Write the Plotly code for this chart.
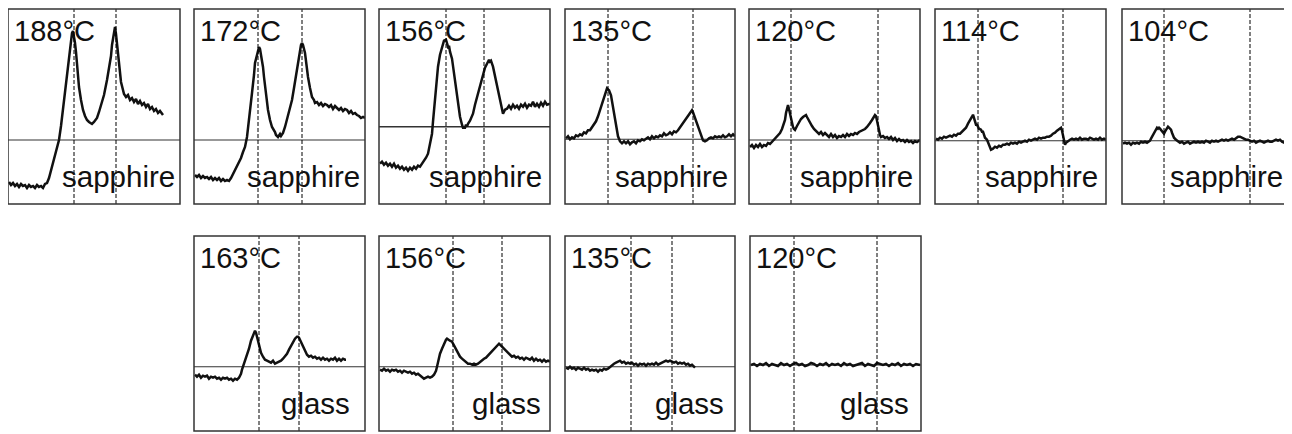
import plotly.graph_objects as go

# ---------------- data (x: channel / a.u., y: signal relative to baseline) ----------------
temps_sapphire = ["188°C", "172°C", "156°C", "135°C", "120°C", "114°C", "104°C"]
temps_glass = ["163°C", "156°C", "135°C", "120°C"]

s188_x = [1,3,5,7,9,11,13,15,17,19,21,23,25,27,29,31,33,35,37,39,41,43,45,47,49,51,53,55,57,59,61,62,63,64,65,66,67,68,69,70,71,73,75,77,79,81,84,86,89,91,94,96,99,101,103,104,105,106,107,108,109,110,111,112,113,115,116,118,120,122,124,126,128,130,132,134,136,138,140,142,144,146,148,150,152,155]
s188_y = [-42,-45,-43,-46,-44,-47,-44,-46,-45,-48,-45,-47,-46,-48,-45,-47,-46,-48,-44,-43,-38,-30,-22,-15,-8,0,14,30,47,63,80,90,100,107,109,104,97,88,75,62,53,40,30,24,20,18,16,18,22,28,37,45,60,72,84,95,103,110,113,106,97,85,75,67,58,50,46,43,45,40,42,38,41,36,39,35,37,33,36,31,33,29,31,27,29,25]

s172_x = [1,3,5,7,9,11,13,15,17,19,21,23,25,27,29,31,33,35,37,39,41,43,45,47,49,51,53,54,56,58,60,61,63,64,65,66,67,69,70,72,74,76,78,81,82,84,86,87,89,91,93,95,98,100,103,104,106,107,108,109,111,112,114,116,118,120,121,123,125,127,129,131,133,135,137,139,141,143,145,147,149,151,153,155,157,159,161,163,165,167,169,171]
s172_y = [-35,-37,-35,-38,-36,-38,-37,-39,-37,-40,-38,-40,-38,-41,-39,-41,-40,-41,-38,-34,-30,-26,-23,-18,-12,-7,3,13,30,47,65,77,85,90,93,91,86,73,63,43,30,20,13,8,5,3,6,4,7,13,20,28,40,52,70,80,90,95,97,95,87,78,63,52,43,40,37,38,35,37,34,36,35,33,35,31,34,32,30,32,29,31,30,27,29,26,27,25,24,22,23,22]

s156_x = [1,3,5,7,9,11,13,15,17,19,21,23,25,27,29,31,33,35,37,39,41,43,45,47,49,51,53,54,56,58,59,61,63,64,65,67,68,69,70,71,73,74,76,77,79,81,83,84,86,87,88,89,91,92,94,96,99,101,104,106,108,109,110,111,112,114,116,118,120,122,123,124,126,128,130,132,134,136,138,140,142,144,146,148,150,152,154,156,158,160,162,164,166,168,171]
s156_y = [-37,-35,-38,-36,-39,-37,-40,-37,-41,-39,-42,-40,-43,-41,-44,-41,-43,-40,-42,-39,-40,-37,-35,-31,-27,-18,-7,5,27,45,60,72,80,84,86,87,84,80,81,75,68,60,47,36,20,10,2,-1,-1,2,0,3,6,9,13,22,33,42,53,59,63,66,67,65,66,60,50,40,30,20,15,13,17,18,21,18,22,19,21,18,22,20,23,19,22,21,25,20,23,20,24,21,25,22,23]

s135_x = [1,3,5,7,9,11,13,15,17,19,21,23,25,27,29,31,33,35,37,38,40,41,42,43,44,46,47,48,49,50,51,52,53,55,57,59,61,63,65,67,69,71,73,75,77,79,81,83,85,87,89,91,93,95,97,99,101,103,105,107,109,111,113,115,117,119,121,123,125,127,128,130,132,134,136,138,140,142,144,146,148,150,152,154,156,158,160,162,164,166,168,170]
s135_y = [1,3,0,2,1,4,3,5,4,7,6,9,9,12,14,18,23,29,35,39,46,49,51,50,49,44,38,31,26,18,12,8,3,-2,-4,-2,-4,-2,-5,-3,-2,-4,-1,-2,0,-1,1,2,0,3,1,3,2,4,3,6,4,5,7,5,8,7,9,12,15,18,21,24,27,29,27,21,16,9,3,-1,-2,-1,1,2,1,3,2,3,2,4,2,3,5,3,5,3]

s120_x = [1,3,5,7,9,11,13,15,17,19,21,23,25,27,29,31,33,35,36,37,38,39,40,41,42,43,44,45,46,48,50,52,54,56,57,58,60,61,63,65,67,68,70,72,74,76,78,80,82,84,86,88,90,92,94,96,98,100,102,104,106,108,110,112,114,116,118,120,121,123,125,126,127,128,129,130,131,132,134,136,138,140,142,144,146,148,150,152,154,156,158,160,162,164,166,168,171]
s120_y = [-7,-5,-8,-5,-7,-4,-7,-5,-6,-3,-4,-2,0,2,4,7,11,16,20,27,32,35,31,26,22,17,13,11,10,14,18,21,23,25,25,23,19,17,14,11,9,8,6,8,5,7,5,3,6,3,5,2,4,3,5,3,6,4,6,5,7,6,8,9,10,11,13,15,17,20,23,25,24,20,17,10,5,3,4,2,3,1,3,0,2,-1,1,-1,0,-2,0,-2,-1,-3,-1,-2,0]

s114_x = [1,3,5,7,9,11,13,15,17,19,21,23,25,27,29,31,33,35,37,38,39,40,41,42,43,44,46,47,48,49,50,52,54,55,56,58,60,62,64,66,68,70,72,74,76,78,80,82,84,86,88,90,92,94,96,98,100,102,104,106,108,110,112,114,116,118,120,122,124,126,127,128,129,130,131,133,135,137,139,141,143,145,147,149,151,153,155,157,159,161,163,165,167,169,171]
s114_y = [2,1,3,2,4,3,4,5,4,6,5,7,7,9,10,13,17,20,24,26,23,18,16,16,14,12,11,9,9,6,3,1,-4,-7,-9,-8,-6,-7,-5,-6,-4,-4,-3,-4,-2,-3,-2,-3,-1,-2,-1,0,-1,1,0,1,2,1,3,2,3,3,4,4,5,7,8,10,12,13,10,4,0,-4,-2,0,1,2,1,2,1,3,1,2,2,1,3,2,1,2,1,3,1,2,1]

s104_x = [1,3,5,7,9,11,13,15,17,19,21,23,25,27,28,29,30,31,33,34,35,36,37,38,39,40,41,42,43,44,45,46,47,48,49,50,51,52,54,56,58,60,62,64,66,68,70,72,74,76,78,80,82,84,86,88,90,92,94,96,98,100,102,104,106,108,110,112,114,116,118,120,122,124,126,128,130,132,134,136,138,140,142,144,146,148,150,152,154,156,158,160,162,164]
s104_y = [-3,-2,-3,-2,-4,-2,-3,-2,-3,-1,-2,-1,-2,-1,0,2,4,6,9,12,13,12,13,12,11,9,8,7,9,11,13,14,13,12,11,8,5,3,1,-1,-2,-1,-3,-2,-1,-3,-2,-1,-2,-1,-2,-1,-2,0,-1,-2,0,-1,0,-1,0,1,0,1,0,1,2,1,3,4,4,3,2,1,1,0,-1,0,-2,-1,0,-1,-2,-1,0,-1,-1,0,1,0,1,-1,-2,-1]

g163_x = [1,3,5,7,9,11,13,15,17,19,21,23,25,27,29,31,33,35,37,39,41,43,45,47,48,49,51,53,55,57,59,60,61,62,63,64,65,66,67,69,71,73,75,77,79,81,83,85,87,89,91,93,95,97,99,101,103,104,105,107,109,111,113,115,117,119,121,123,125,127,129,131,133,135,137,139,141,143,145,147,149,151,152]
g163_y = [-8,-10,-8,-11,-9,-10,-9,-12,-10,-11,-10,-12,-11,-13,-11,-12,-11,-13,-12,-14,-12,-13,-11,-7,-3,0,5,11,18,26,32,35,36,34,30,26,22,18,14,10,7,6,5,4,6,3,4,5,6,8,10,13,17,21,25,28,30,30,29,25,20,16,12,10,11,9,10,8,9,7,9,7,8,6,8,7,9,6,8,6,8,7,7]

g156_x = [1,3,5,7,9,11,13,15,17,19,21,23,25,27,29,31,33,35,37,39,41,43,45,47,49,51,53,55,57,58,59,60,61,63,65,67,68,69,71,73,75,77,79,81,83,85,87,89,91,93,95,97,99,101,103,105,107,109,111,113,115,117,119,120,121,123,125,127,129,131,133,135,137,139,141,143,145,147,149,151,153,155,157,159,161,163,165,167,169,171]
g156_y = [-3,-4,-2,-4,-3,-5,-3,-4,-3,-5,-4,-6,-4,-5,-6,-5,-7,-6,-8,-7,-9,-10,-12,-11,-10,-11,-10,-8,-4,0,5,10,13,18,23,27,28,27,26,25,21,17,14,10,8,6,4,3,3,2,3,2,3,5,6,8,9,11,13,15,18,20,22,23,22,20,18,16,14,12,10,11,9,10,8,9,7,9,8,7,9,6,8,6,7,5,7,5,6,5]

g135_x = [1,3,5,7,9,11,13,15,17,19,21,23,25,27,29,31,33,35,37,39,41,43,45,47,49,51,53,55,57,59,61,63,65,67,69,71,73,75,77,79,81,83,85,87,89,91,93,95,97,99,101,103,105,107,109,111,113,115,117,119,121,123,125,127,129,130]
g135_y = [-1,-2,0,-2,-1,-3,-1,-2,-3,-1,-3,-2,-4,-3,-4,-3,-5,-3,-4,-2,-3,-2,0,2,3,4,5,6,4,5,3,4,3,4,2,3,1,3,2,3,1,3,2,3,2,4,2,3,4,5,6,5,6,5,4,5,3,4,3,4,2,3,1,2,0,-1]

g120_x = [1,4,7,10,13,16,19,22,25,28,31,34,37,40,43,46,49,52,55,58,61,64,67,70,73,76,79,82,85,88,91,94,97,100,103,106,109,112,115,118,121,124,127,130,133,136,139,142,145,148,151,154,157,160,163,166,170]
g120_y = [0,1,-1,1,0,2,-1,1,0,-1,2,0,1,-1,1,2,0,1,-1,0,2,1,-1,1,0,2,-1,1,0,1,-1,2,0,1,-1,0,1,2,-1,1,0,-1,2,1,0,1,-1,1,0,2,-1,1,0,1,-1,1,0]

# reference (dashed) line positions per panel, in the same x units
s_marks = [[66, 108], [64, 108], [67, 105], [43, 128], [42, 129], [43, 128], [42, 128]]
g_marks = [[65, 105], [74, 123], [66, 107], [44, 127]]

# ---------------- layout geometry (figure pixels) ----------------
W, H = 1292, 434
OFF = 8  # page body margin
s_left = [8, 194, 379, 565, 749, 935, 1122]
s_right = [180, 365, 550, 735, 920, 1106, 1292]
s_base = [140, 140, 126.7, 139.3, 140, 140.7, 140.7]
s_top, s_bot = 9, 204
g_left = [194, 379, 565, 750]
g_right = [365, 550, 735, 921]
g_base = [366.7, 366.7, 366.7, 365]
g_top, g_bot = 236, 431
s_pad = [5, 5, 8, 7, 7, 8, 9]
g_pad = [15, 9, 11, 12]

s_series = [(s188_x, s188_y), (s172_x, s172_y), (s156_x, s156_y), (s135_x, s135_y),
            (s120_x, s120_y), (s114_x, s114_y), (s104_x, s104_y)]
g_series = [(g163_x, g163_y), (g156_x, g156_y), (g135_x, g135_y), (g120_x, g120_y)]

panels = []
for i in range(7):
    panels.append(dict(L=s_left[i], R=s_right[i], T=s_top, B=s_bot, base=s_base[i],
                       data=s_series[i], marks=s_marks[i], temp=temps_sapphire[i],
                       mat="sapphire", matpad=s_pad[i], edge=(i == 6),
                       basew=1.6 if i == 2 else 1.1))
for i in range(4):
    panels.append(dict(L=g_left[i], R=g_right[i], T=g_top, B=g_bot, base=g_base[i],
                       data=g_series[i], marks=g_marks[i], temp=temps_glass[i],
                       mat="glass", matpad=g_pad[i], edge=False, basew=1.1))

fig = go.Figure()
layout = dict(width=W, height=H, margin=dict(l=0, r=0, t=0, b=0),
              paper_bgcolor="white", plot_bgcolor="white", showlegend=False)
shapes, annotations = [], []
FONT = "Liberation Sans, Arial, Helvetica, sans-serif"

for k, p in enumerate(panels, start=1):
    xa = "xaxis" if k == 1 else f"xaxis{k}"
    ya = "yaxis" if k == 1 else f"yaxis{k}"
    xr = "x" if k == 1 else f"x{k}"
    yr = "y" if k == 1 else f"y{k}"
    L, R, T, B = p["L"] - OFF, p["R"] - OFF, p["T"] - OFF, p["B"] - OFF
    width = p["R"] - p["L"]
    layout[xa] = dict(domain=[L / W, min(R / W, 1.0)], range=[0, width],
                      visible=False, anchor=yr, fixedrange=True)
    layout[ya] = dict(domain=[1 - B / H, 1 - T / H],
                      range=[p["base"] - p["B"], p["base"] - p["T"]],
                      visible=False, anchor=xr, fixedrange=True)
    xs, ys = p["data"]
    fig.add_trace(go.Scatter(x=xs, y=ys, mode="lines", xaxis=xr, yaxis=yr,
                             line=dict(color="#111111", width=2.5), hoverinfo="skip"))
    # baseline
    shapes.append(dict(type="line", xref=f"{xr} domain", yref=yr, x0=0, x1=1, y0=0, y1=0,
                       line=dict(color="#333333", width=p["basew"]), layer="below"))
    # dashed marker lines
    for m in p["marks"]:
        shapes.append(dict(type="line", xref=xr, yref=f"{yr} domain", x0=m, x1=m, y0=0, y1=1,
                           line=dict(color="#000000", width=1, dash="4px,2px")))
    # panel frame
    shapes.append(dict(type="rect", xref=f"{xr} domain", yref=f"{yr} domain",
                       x0=0, x1=1.03 if p["edge"] else 1, y0=0, y1=1,
                       line=dict(color="#333333", width=1.5), fillcolor="rgba(0,0,0,0)"))
    annotations.append(dict(xref=f"{xr} domain", yref=f"{yr} domain", x=0, y=1,
                            xanchor="left", yanchor="top", xshift=4, yshift=-4,
                            text=p["temp"], showarrow=False,
                            font=dict(family=FONT, size=29, color="#111111")))
    annotations.append(dict(xref=f"{xr} domain", yref=f"{yr} domain", x=1, y=0,
                            xanchor="right", yanchor="bottom", xshift=-p["matpad"] + 2, yshift=9,
                            text=p["mat"], showarrow=False,
                            font=dict(family=FONT, size=29.5, color="#111111")))

layout["shapes"] = shapes
layout["annotations"] = annotations
fig.update_layout(**layout)
fig.write_html("out.html")
